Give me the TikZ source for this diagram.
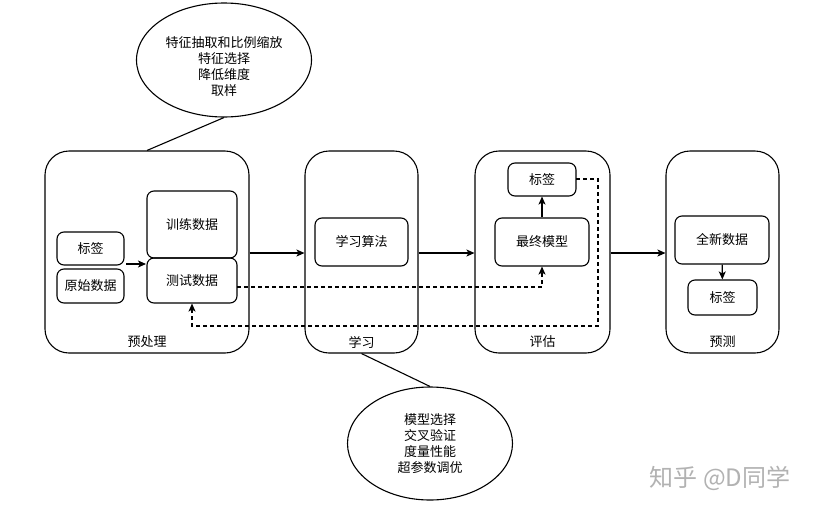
\documentclass[tikz,border=0pt]{standalone}
\usepackage{fontspec}
\setmainfont{Noto Sans CJK SC}
\usetikzlibrary{arrows.meta,shapes.geometric,calc}
\begin{document}
\begin{tikzpicture}[x=1pt,y=-1pt,
  every node/.style={font=\fontsize{13}{16}\selectfont},
  bigbox/.style={draw, line width=1.1pt, rounded corners=24pt, minimum width=#1, minimum height=202pt, inner sep=0pt},
  smallbox/.style={draw, line width=1.1pt, rounded corners=7pt, inner sep=0pt},
  oval/.style={draw, line width=1.1pt, ellipse, inner sep=0pt},
  arr/.style={line width=1.1pt, -{Stealth[length=8pt,width=7pt,inset=2pt]}},
  darr/.style={line width=1.1pt, dashed, dash pattern=on 4pt off 3pt, -{Stealth[length=8pt,width=7pt,inset=2pt]}},
  plain/.style={line width=1.1pt}
]
\useasboundingbox (0,0) rectangle (814,509);
\fill[white] (0,0) rectangle (814,509);

% big boxes
\node[bigbox=204pt] (b1) at (147,252) {};
\node[bigbox=113pt] (b2) at (361.5,252) {};
\node[bigbox=135pt] (b3) at (542.5,252) {};
\node[bigbox=113pt] (b4) at (722.5,252) {};
\node (l1) at (147,342) {预处理};
\node (l2) at (361.5,342) {学习};
\node (l3) at (542.5,342) {评估};
\node (l4) at (722.5,342) {预测};

% preprocessing
\node[smallbox, minimum width=67pt, minimum height=33pt] (lab1) at (90.5,248.5) {标签};
\node[smallbox, minimum width=67pt, minimum height=34pt] (raw) at (90.5,286) {原始数据};
\node[smallbox, minimum width=90pt, minimum height=67pt] (train) at (192,224.5) {训练数据};
\node[smallbox, minimum width=90pt, minimum height=45pt] (test) at (192,280.5) {测试数据};
\coordinate (pa) at (126,264);
\coordinate (pb) at (146,264);
\draw[arr] (pa) -- (pb);

% learning
\node[smallbox, minimum width=93pt, minimum height=48pt] (alg) at (361.5,242) {学习算法};

% evaluation
\node[smallbox, minimum width=68pt, minimum height=33pt] (lab2) at (542,179.5) {标签};
\node[smallbox, minimum width=94pt, minimum height=48pt] (final) at (542,242) {最终模型};
\draw[arr] (final) -- (lab2);

% prediction
\node[smallbox, minimum width=94pt, minimum height=48pt] (new) at (722,240) {全新数据};
\node[smallbox, minimum width=69pt, minimum height=35pt] (lab3) at (722.5,297.5) {标签};
\draw[arr] (new) -- (lab3);

% main flow
\draw[arr] (b1.east |- 0,253) -- (b2.west |- 0,253);
\draw[arr] (b2.east |- 0,253) -- (b3.west |- 0,253);
\draw[arr] (b3.east |- 0,253) -- (b4.west |- 0,253);

% dashed flows
\coordinate (d1) at (237,287);
\draw[darr] (d1) -| (final.south);
\coordinate (d2) at (576,179);
\coordinate (d3) at (598,326);
\draw[darr] (d2) -| (d3) -| (test.south);

% ellipses
\node[oval, minimum width=175pt, minimum height=114pt] (e1) at (224,60) {};
\node[align=center] (t1) at (224,67) {特征抽取和比例缩放\\特征选择\\降低维度\\取样};
\draw[plain] (e1.south) -- (b1.north);
\node[oval, minimum width=165pt, minimum height=113pt] (e2) at (430,443.5) {};
\node[align=center] (t2) at (430,444) {模型选择\\交叉验证\\度量性能\\超参数调优};
\draw[plain] (b2.south) -- (e2.north);

% watermark
\node[text=black!30, font=\fontsize{24}{26}\selectfont] (wm) at (720,478) {知乎 @D同学};
\end{tikzpicture}
\end{document}
